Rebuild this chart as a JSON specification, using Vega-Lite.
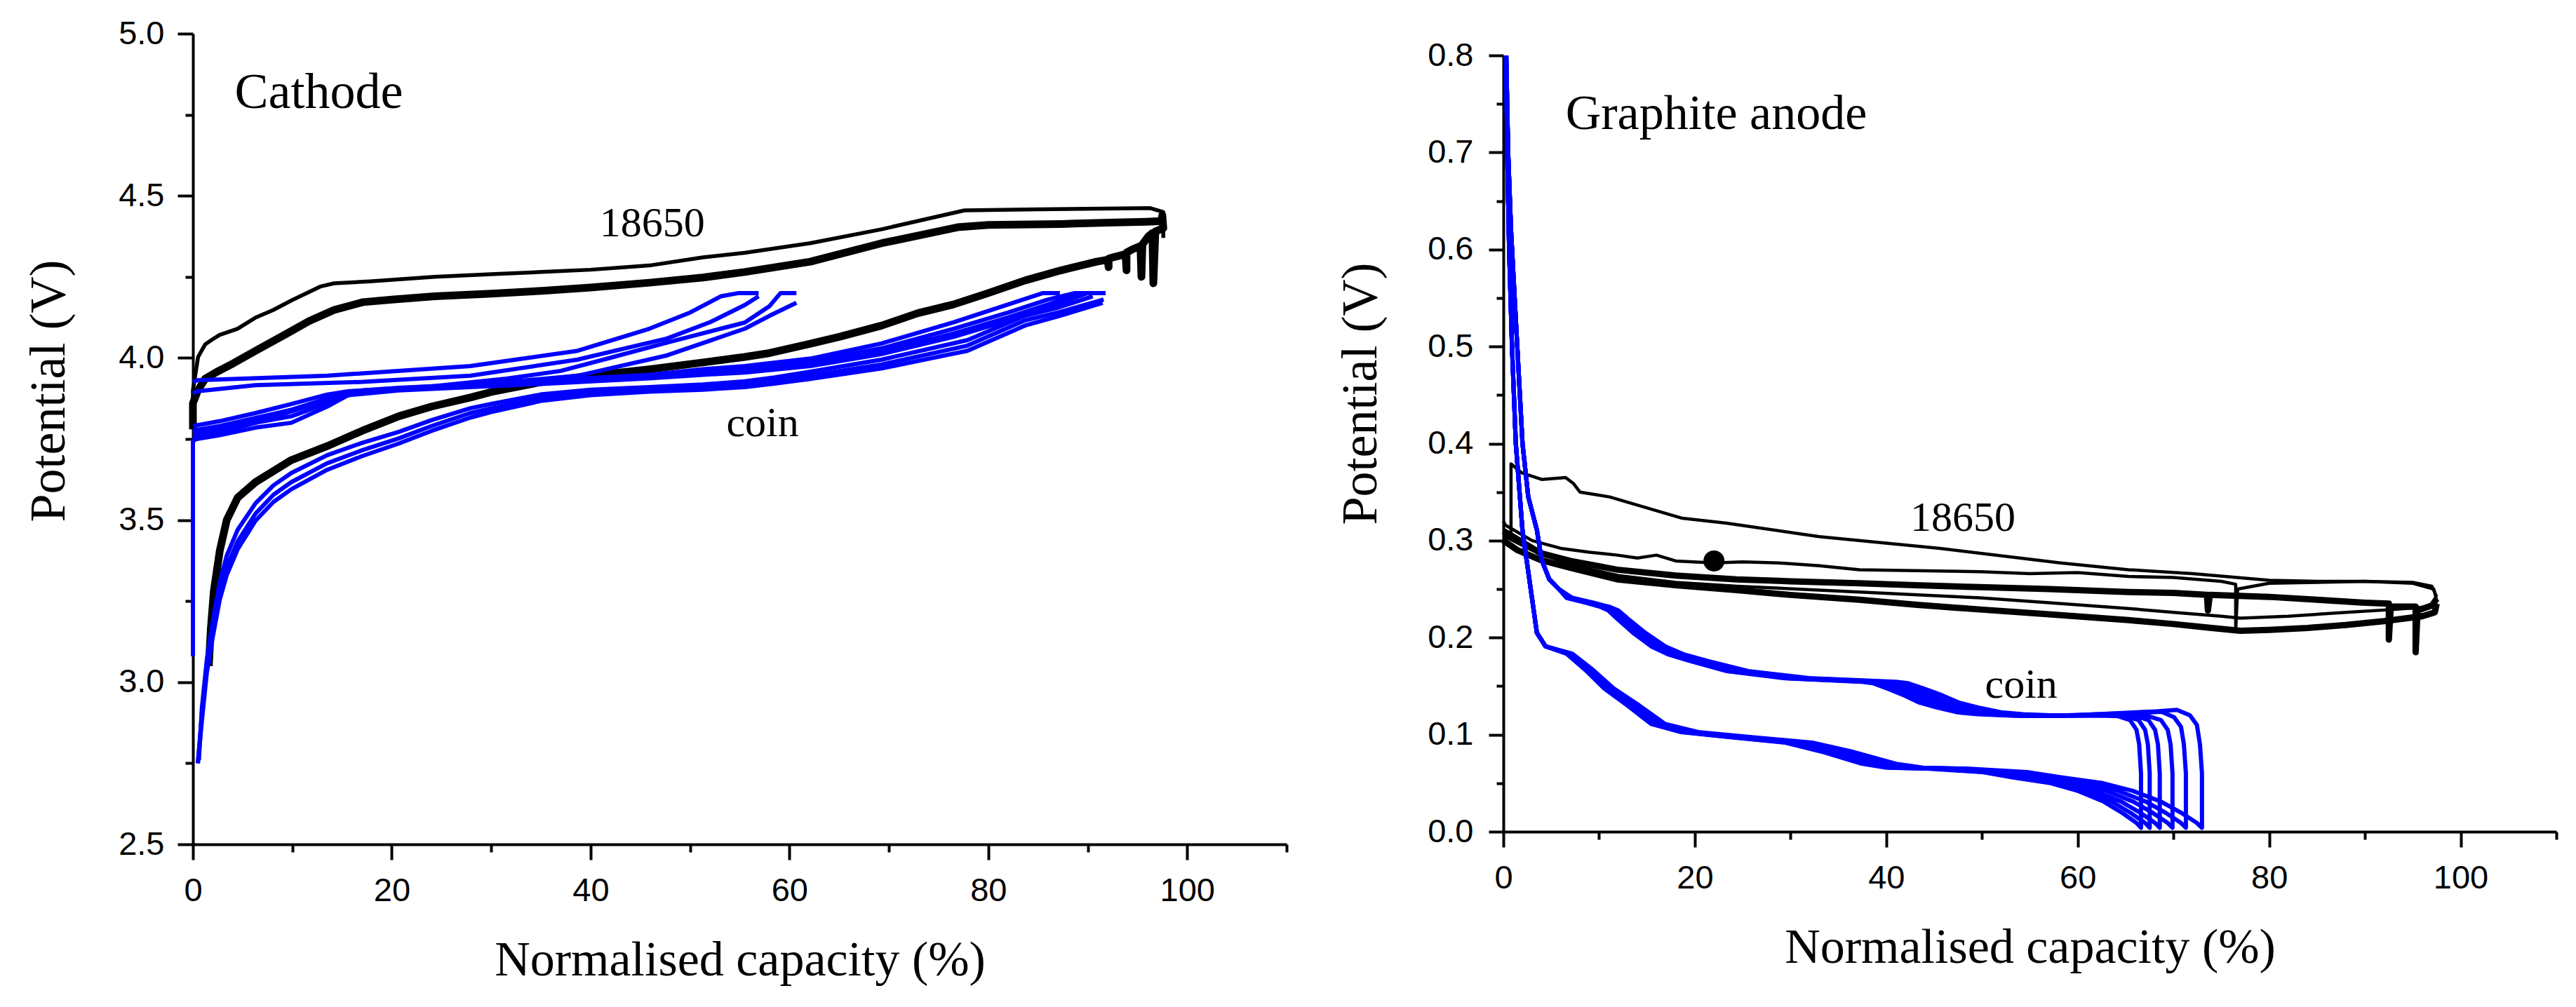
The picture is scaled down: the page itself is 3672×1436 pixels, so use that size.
{
  "$schema": "https://vega.github.io/schema/vega-lite/v6.json",
  "background": "white",
  "padding": {"left": 33, "top": 24, "right": 5, "bottom": 5},
  "spacing": 67,
  "config": {
    "view": {"stroke": null},
    "axis": {
      "grid": false,
      "domainColor": "black", "domainWidth": 4,
      "tickColor": "black", "tickWidth": 4,
      "labelColor": "black", "labelFont": "Liberation Sans",
      "labelFontSize": 47, "labelFlush": false, "labelOverlap": false,
      "titleColor": "black", "titleFont": "Liberation Serif", "titleFontSize": 70, "titleFontWeight": "normal"
    }
  },
  "datasets": {
    "cathode": [
      {"s":"18650-a","x":0,"y":3.78},{"s":"18650-a","x":0,"y":3.86},{"s":"18650-a","x":0.5,"y":3.9},{"s":"18650-a","x":1.24,"y":3.936},{"s":"18650-a","x":2.3,"y":3.955},{"s":"18650-a","x":4.1,"y":3.984},{"s":"18650-a","x":6.3,"y":4.022},{"s":"18650-a","x":9.2,"y":4.071},{"s":"18650-a","x":11.7,"y":4.114},{"s":"18650-a","x":14.2,"y":4.148},{"s":"18650-a","x":17.1,"y":4.172},{"s":"18650-a","x":20,"y":4.18},{"s":"18650-a","x":24.3,"y":4.19},{"s":"18650-a","x":30,"y":4.198},{"s":"18650-a","x":35.1,"y":4.207},{"s":"18650-a","x":40,"y":4.217},{"s":"18650-a","x":45.9,"y":4.232},{"s":"18650-a","x":51.3,"y":4.248},{"s":"18650-a","x":55.5,"y":4.265},{"s":"18650-a","x":62.1,"y":4.297},{"s":"18650-a","x":69.3,"y":4.354},{"s":"18650-a","x":76.9,"y":4.403},{"s":"18650-a","x":80,"y":4.41},{"s":"18650-a","x":87.3,"y":4.413},{"s":"18650-a","x":92,"y":4.417},{"s":"18650-a","x":95.9,"y":4.42},{"s":"18650-a","x":97.4,"y":4.422},{"s":"18650-a","x":97.5,"y":4.44},{"s":"18650-a","x":97.6,"y":4.4},
      {"s":"18650-a","x":96.8,"y":4.39},{"s":"18650-a","x":96.6,"y":4.23},{"s":"18650-a","x":96.5,"y":4.385},{"s":"18650-a","x":96.1,"y":4.375},{"s":"18650-a","x":95.5,"y":4.35},{"s":"18650-a","x":95.4,"y":4.25},{"s":"18650-a","x":95.3,"y":4.345},{"s":"18650-a","x":94.5,"y":4.335},{"s":"18650-a","x":93.9,"y":4.325},{"s":"18650-a","x":93.9,"y":4.27},{"s":"18650-a","x":93.8,"y":4.32},{"s":"18650-a","x":92.5,"y":4.31},{"s":"18650-a","x":92.1,"y":4.306},{"s":"18650-a","x":92.1,"y":4.28},{"s":"18650-a","x":92,"y":4.303},{"s":"18650-a","x":90.9,"y":4.297},{"s":"18650-a","x":87.3,"y":4.27},{"s":"18650-a","x":83.7,"y":4.239},{"s":"18650-a","x":80,"y":4.2},{"s":"18650-a","x":76.5,"y":4.165},{"s":"18650-a","x":72.9,"y":4.138},{"s":"18650-a","x":69.3,"y":4.1},{"s":"18650-a","x":65,"y":4.065},{"s":"18650-a","x":62.1,"y":4.044},{"s":"18650-a","x":58,"y":4.015},{"s":"18650-a","x":55.5,"y":4.003},{"s":"18650-a","x":51.3,"y":3.986},{"s":"18650-a","x":45.9,"y":3.965},{"s":"18650-a","x":40,"y":3.945},{"s":"18650-a","x":35.1,"y":3.926},{"s":"18650-a","x":30,"y":3.895},{"s":"18650-a","x":27.9,"y":3.878},{"s":"18650-a","x":24,"y":3.85},{"s":"18650-a","x":20.7,"y":3.82},{"s":"18650-a","x":17,"y":3.775},{"s":"18650-a","x":13.5,"y":3.728},{"s":"18650-a","x":9.9,"y":3.685},{"s":"18650-a","x":6.3,"y":3.617},{"s":"18650-a","x":4.5,"y":3.569},{"s":"18650-a","x":3.4,"y":3.5},{"s":"18650-a","x":2.7,"y":3.405},{"s":"18650-a","x":2.1,"y":3.28},{"s":"18650-a","x":1.8,"y":3.164},{"s":"18650-a","x":1.6,"y":3.05},
      {"s":"18650-b","x":0,"y":3.78},{"s":"18650-b","x":0,"y":3.9},{"s":"18650-b","x":0.52,"y":4.003},{"s":"18650-b","x":1.24,"y":4.042},{"s":"18650-b","x":1.96,"y":4.057},{"s":"18650-b","x":2.68,"y":4.071},{"s":"18650-b","x":4.48,"y":4.09},{"s":"18650-b","x":6.28,"y":4.124},{"s":"18650-b","x":8.09,"y":4.148},{"s":"18650-b","x":9.9,"y":4.177},{"s":"18650-b","x":12.8,"y":4.22},{"s":"18650-b","x":14.2,"y":4.23},{"s":"18650-b","x":17.8,"y":4.236},{"s":"18650-b","x":24.3,"y":4.25},{"s":"18650-b","x":30,"y":4.258},{"s":"18650-b","x":35.1,"y":4.265},{"s":"18650-b","x":40,"y":4.272},{"s":"18650-b","x":45.9,"y":4.285},{"s":"18650-b","x":51.3,"y":4.31},{"s":"18650-b","x":55.5,"y":4.324},{"s":"18650-b","x":62.1,"y":4.354},{"s":"18650-b","x":69.3,"y":4.397},{"s":"18650-b","x":77.6,"y":4.455},{"s":"18650-b","x":85,"y":4.458},{"s":"18650-b","x":96.3,"y":4.462},{"s":"18650-b","x":97.6,"y":4.45},{"s":"18650-b","x":97.6,"y":4.37},
      {"s":"coin-1","x":0,"y":3.925},{"s":"coin-1","x":0.4,"y":3.931},{"s":"coin-1","x":13.5,"y":3.945},{"s":"coin-1","x":27.9,"y":3.975},{"s":"coin-1","x":38.7,"y":4.022},{"s":"coin-1","x":45.9,"y":4.09},{"s":"coin-1","x":50,"y":4.14},{"s":"coin-1","x":53.1,"y":4.19},{"s":"coin-1","x":54.9,"y":4.2},{"s":"coin-1","x":56.9,"y":4.2},
      {"s":"coin-2","x":56.9,"y":4.19},{"s":"coin-2","x":55.5,"y":4.163},{"s":"coin-2","x":52,"y":4.11},{"s":"coin-2","x":47.7,"y":4.06},{"s":"coin-2","x":38.7,"y":3.995},{"s":"coin-2","x":27.9,"y":3.945},{"s":"coin-2","x":17.1,"y":3.926},{"s":"coin-2","x":6.3,"y":3.916},{"s":"coin-2","x":0.4,"y":3.897},{"s":"coin-2","x":0,"y":3.89},
      {"s":"coin-3","x":0,"y":3.77},{"s":"coin-3","x":2.7,"y":3.785},{"s":"coin-3","x":6.3,"y":3.81},{"s":"coin-3","x":9.9,"y":3.84},{"s":"coin-3","x":13.5,"y":3.87},{"s":"coin-3","x":17.1,"y":3.9},{"s":"coin-3","x":24,"y":3.912},{"s":"coin-3","x":31.5,"y":3.936},{"s":"coin-3","x":37,"y":3.96},{"s":"coin-3","x":42.3,"y":4.003},{"s":"coin-3","x":48,"y":4.05},{"s":"coin-3","x":55.5,"y":4.109},{"s":"coin-3","x":58,"y":4.16},{"s":"coin-3","x":59.1,"y":4.2},{"s":"coin-3","x":60.7,"y":4.2},
      {"s":"coin-4","x":60.7,"y":4.17},{"s":"coin-4","x":58,"y":4.13},{"s":"coin-4","x":55.5,"y":4.09},{"s":"coin-4","x":47.7,"y":4.008},{"s":"coin-4","x":38.7,"y":3.945},{"s":"coin-4","x":27.9,"y":3.916},{"s":"coin-4","x":17.1,"y":3.895},{"s":"coin-4","x":13.5,"y":3.87},{"s":"coin-4","x":9.9,"y":3.835},{"s":"coin-4","x":6.3,"y":3.8},{"s":"coin-4","x":2.7,"y":3.77},{"s":"coin-4","x":0,"y":3.755},
      {"s":"coin-5","x":0,"y":3.79},{"s":"coin-5","x":0.4,"y":3.792},{"s":"coin-5","x":2.7,"y":3.805},{"s":"coin-5","x":6.3,"y":3.83},{"s":"coin-5","x":9.9,"y":3.858},{"s":"coin-5","x":13.5,"y":3.887},{"s":"coin-5","x":15.6,"y":3.897},{"s":"coin-5","x":20.7,"y":3.908},{"s":"coin-5","x":27.9,"y":3.918},{"s":"coin-5","x":35.1,"y":3.93},{"s":"coin-5","x":45.9,"y":3.948},{"s":"coin-5","x":51.3,"y":3.965},{"s":"coin-5","x":55.5,"y":3.975},{"s":"coin-5","x":62.1,"y":3.998},{"s":"coin-5","x":69.3,"y":4.045},{"s":"coin-5","x":76.5,"y":4.11},{"s":"coin-5","x":82,"y":4.165},{"s":"coin-5","x":85.5,"y":4.2},{"s":"coin-5","x":87.2,"y":4.2},
      {"s":"coin-6","x":0,"y":3.775},{"s":"coin-6","x":0.4,"y":3.778},{"s":"coin-6","x":2.7,"y":3.79},{"s":"coin-6","x":6.3,"y":3.815},{"s":"coin-6","x":9.9,"y":3.84},{"s":"coin-6","x":13.5,"y":3.875},{"s":"coin-6","x":15.6,"y":3.893},{"s":"coin-6","x":20.7,"y":3.905},{"s":"coin-6","x":27.9,"y":3.915},{"s":"coin-6","x":35.1,"y":3.926},{"s":"coin-6","x":45.9,"y":3.944},{"s":"coin-6","x":51.3,"y":3.958},{"s":"coin-6","x":55.5,"y":3.967},{"s":"coin-6","x":62.1,"y":3.99},{"s":"coin-6","x":69.3,"y":4.03},{"s":"coin-6","x":76.5,"y":4.09},{"s":"coin-6","x":82,"y":4.14},{"s":"coin-6","x":86,"y":4.18},{"s":"coin-6","x":88.7,"y":4.2},{"s":"coin-6","x":89.8,"y":4.2},
      {"s":"coin-7","x":0,"y":3.08},{"s":"coin-7","x":0,"y":3.74},{"s":"coin-7","x":0.3,"y":3.76},{"s":"coin-7","x":2.7,"y":3.775},{"s":"coin-7","x":6.3,"y":3.8},{"s":"coin-7","x":9.9,"y":3.82},{"s":"coin-7","x":13.5,"y":3.86},{"s":"coin-7","x":15.6,"y":3.888},{"s":"coin-7","x":20.7,"y":3.903},{"s":"coin-7","x":27.9,"y":3.913},{"s":"coin-7","x":35.1,"y":3.923},{"s":"coin-7","x":45.9,"y":3.94},{"s":"coin-7","x":51.3,"y":3.952},{"s":"coin-7","x":55.5,"y":3.96},{"s":"coin-7","x":62.1,"y":3.982},{"s":"coin-7","x":69.3,"y":4.02},{"s":"coin-7","x":76.5,"y":4.075},{"s":"coin-7","x":82,"y":4.125},{"s":"coin-7","x":86,"y":4.165},{"s":"coin-7","x":89.5,"y":4.2},{"s":"coin-7","x":91,"y":4.2},
      {"s":"coin-8","x":0,"y":3.745},{"s":"coin-8","x":0.4,"y":3.75},{"s":"coin-8","x":2.7,"y":3.762},{"s":"coin-8","x":6.3,"y":3.785},{"s":"coin-8","x":9.9,"y":3.8},{"s":"coin-8","x":13.5,"y":3.85},{"s":"coin-8","x":15.6,"y":3.885},{"s":"coin-8","x":20.7,"y":3.9},{"s":"coin-8","x":27.9,"y":3.91},{"s":"coin-8","x":35.1,"y":3.92},{"s":"coin-8","x":45.9,"y":3.937},{"s":"coin-8","x":51.3,"y":3.948},{"s":"coin-8","x":55.5,"y":3.955},{"s":"coin-8","x":62.1,"y":3.975},{"s":"coin-8","x":69.3,"y":4.012},{"s":"coin-8","x":76.5,"y":4.065},{"s":"coin-8","x":82,"y":4.115},{"s":"coin-8","x":86,"y":4.155},{"s":"coin-8","x":90,"y":4.2},{"s":"coin-8","x":91.8,"y":4.2},
      {"s":"coin-9","x":91.6,"y":4.18},{"s":"coin-9","x":87,"y":4.14},{"s":"coin-9","x":83.7,"y":4.116},{"s":"coin-9","x":77.9,"y":4.038},{"s":"coin-9","x":69.3,"y":3.98},{"s":"coin-9","x":62,"y":3.945},{"s":"coin-9","x":58.5,"y":3.93},{"s":"coin-9","x":55.5,"y":3.918},{"s":"coin-9","x":51.3,"y":3.91},{"s":"coin-9","x":45.9,"y":3.903},{"s":"coin-9","x":40,"y":3.893},{"s":"coin-9","x":35.1,"y":3.878},{"s":"coin-9","x":30,"y":3.845},{"s":"coin-9","x":27.9,"y":3.83},{"s":"coin-9","x":24,"y":3.79},{"s":"coin-9","x":20.7,"y":3.752},{"s":"coin-9","x":17,"y":3.715},{"s":"coin-9","x":13.5,"y":3.675},{"s":"coin-9","x":9.9,"y":3.617},{"s":"coin-9","x":8.1,"y":3.578},{"s":"coin-9","x":6.3,"y":3.52},{"s":"coin-9","x":4.5,"y":3.434},{"s":"coin-9","x":3.4,"y":3.356},{"s":"coin-9","x":2.7,"y":3.28},{"s":"coin-9","x":2,"y":3.164},{"s":"coin-9","x":1.4,"y":3.05},{"s":"coin-9","x":0.9,"y":2.9},{"s":"coin-9","x":0.5,"y":2.75},
      {"s":"coin-10","x":90.5,"y":4.19},{"s":"coin-10","x":87,"y":4.155},{"s":"coin-10","x":83.7,"y":4.13},{"s":"coin-10","x":77.9,"y":4.055},{"s":"coin-10","x":69.3,"y":3.995},{"s":"coin-10","x":62,"y":3.957},{"s":"coin-10","x":58.5,"y":3.94},{"s":"coin-10","x":55.5,"y":3.928},{"s":"coin-10","x":51.3,"y":3.918},{"s":"coin-10","x":45.9,"y":3.91},{"s":"coin-10","x":40,"y":3.902},{"s":"coin-10","x":35.1,"y":3.888},{"s":"coin-10","x":30,"y":3.858},{"s":"coin-10","x":27.9,"y":3.845},{"s":"coin-10","x":24,"y":3.808},{"s":"coin-10","x":20.7,"y":3.772},{"s":"coin-10","x":17,"y":3.738},{"s":"coin-10","x":13.5,"y":3.7},{"s":"coin-10","x":9.9,"y":3.645},{"s":"coin-10","x":8.1,"y":3.607},{"s":"coin-10","x":6.3,"y":3.552},{"s":"coin-10","x":4.5,"y":3.47},{"s":"coin-10","x":3.4,"y":3.39},{"s":"coin-10","x":2.7,"y":3.31},{"s":"coin-10","x":2,"y":3.19},{"s":"coin-10","x":1.4,"y":3.07},{"s":"coin-10","x":0.9,"y":2.92},{"s":"coin-10","x":0.6,"y":2.76},
      {"s":"coin-11","x":91.5,"y":4.17},{"s":"coin-11","x":87,"y":4.128},{"s":"coin-11","x":83.7,"y":4.1},{"s":"coin-11","x":77.9,"y":4.022},{"s":"coin-11","x":69.3,"y":3.968},{"s":"coin-11","x":62,"y":3.935},{"s":"coin-11","x":58.5,"y":3.921},{"s":"coin-11","x":55.5,"y":3.91},{"s":"coin-11","x":51.3,"y":3.902},{"s":"coin-11","x":45.9,"y":3.896},{"s":"coin-11","x":40,"y":3.885},{"s":"coin-11","x":35.1,"y":3.868},{"s":"coin-11","x":30,"y":3.833},{"s":"coin-11","x":27.9,"y":3.816},{"s":"coin-11","x":24,"y":3.775},{"s":"coin-11","x":20.7,"y":3.736},{"s":"coin-11","x":17,"y":3.697},{"s":"coin-11","x":13.5,"y":3.655},{"s":"coin-11","x":9.9,"y":3.595},{"s":"coin-11","x":8.1,"y":3.556},{"s":"coin-11","x":6.3,"y":3.498},{"s":"coin-11","x":4.5,"y":3.41},{"s":"coin-11","x":3.4,"y":3.33},{"s":"coin-11","x":2.7,"y":3.255},{"s":"coin-11","x":2,"y":3.14},{"s":"coin-11","x":1.4,"y":3.03},{"s":"coin-11","x":0.9,"y":2.88},{"s":"coin-11","x":0.5,"y":2.75}
    ],
    "anode": [
      {"s":"18650-1","x":0.8,"y":0.3},{"s":"18650-1","x":0.8,"y":0.379},{"s":"18650-1","x":1.9,"y":0.37},{"s":"18650-1","x":4,"y":0.363},{"s":"18650-1","x":6.5,"y":0.365},{"s":"18650-1","x":7.3,"y":0.359},{"s":"18650-1","x":8,"y":0.35},{"s":"18650-1","x":11.1,"y":0.345},{"s":"18650-1","x":14.9,"y":0.334},{"s":"18650-1","x":18.7,"y":0.323},{"s":"18650-1","x":23.3,"y":0.318},{"s":"18650-1","x":33,"y":0.304},{"s":"18650-1","x":45.6,"y":0.292},{"s":"18650-1","x":58.2,"y":0.277},{"s":"18650-1","x":65.3,"y":0.27},{"s":"18650-1","x":72,"y":0.266},{"s":"18650-1","x":80,"y":0.259},{"s":"18650-1","x":85,"y":0.258},{"s":"18650-1","x":90,"y":0.258},{"s":"18650-1","x":95,"y":0.257},{"s":"18650-1","x":97,"y":0.253},{"s":"18650-1","x":97.5,"y":0.242},
      {"s":"18650-2","x":0,"y":0.32},{"s":"18650-2","x":0.2,"y":0.316},{"s":"18650-2","x":3,"y":0.3},{"s":"18650-2","x":6,"y":0.292},{"s":"18650-2","x":9,"y":0.288},{"s":"18650-2","x":11.9,"y":0.285},{"s":"18650-2","x":14,"y":0.282},{"s":"18650-2","x":16,"y":0.285},{"s":"18650-2","x":18,"y":0.279},{"s":"18650-2","x":22,"y":0.277},{"s":"18650-2","x":25,"y":0.278},{"s":"18650-2","x":28.8,"y":0.277},{"s":"18650-2","x":33,"y":0.274},{"s":"18650-2","x":37.2,"y":0.27},{"s":"18650-2","x":43,"y":0.269},{"s":"18650-2","x":49.8,"y":0.268},{"s":"18650-2","x":55,"y":0.266},{"s":"18650-2","x":60,"y":0.267},{"s":"18650-2","x":65.3,"y":0.263},{"s":"18650-2","x":70,"y":0.262},{"s":"18650-2","x":75,"y":0.258},{"s":"18650-2","x":76.5,"y":0.255},{"s":"18650-2","x":76.5,"y":0.206},{"s":"18650-2","x":76.7,"y":0.25},{"s":"18650-2","x":80,"y":0.256},{"s":"18650-2","x":85,"y":0.257},{"s":"18650-2","x":90,"y":0.258},{"s":"18650-2","x":95,"y":0.256},{"s":"18650-2","x":97.2,"y":0.25},{"s":"18650-2","x":97.5,"y":0.238},
      {"s":"18650-3","x":0,"y":0.31},{"s":"18650-3","x":3.9,"y":0.287},{"s":"18650-3","x":7,"y":0.279},{"s":"18650-3","x":11.9,"y":0.27},{"s":"18650-3","x":18,"y":0.264},{"s":"18650-3","x":24.4,"y":0.26},{"s":"18650-3","x":30,"y":0.258},{"s":"18650-3","x":37.2,"y":0.256},{"s":"18650-3","x":43,"y":0.254},{"s":"18650-3","x":49.8,"y":0.252},{"s":"18650-3","x":57,"y":0.25},{"s":"18650-3","x":65.3,"y":0.247},{"s":"18650-3","x":70,"y":0.246},{"s":"18650-3","x":73.5,"y":0.244},{"s":"18650-3","x":73.6,"y":0.228},{"s":"18650-3","x":73.8,"y":0.244},{"s":"18650-3","x":80,"y":0.242},{"s":"18650-3","x":85,"y":0.239},{"s":"18650-3","x":90,"y":0.236},{"s":"18650-3","x":92.5,"y":0.235},{"s":"18650-3","x":92.5,"y":0.198},{"s":"18650-3","x":92.7,"y":0.232},{"s":"18650-3","x":95.3,"y":0.232},{"s":"18650-3","x":95.3,"y":0.185},{"s":"18650-3","x":95.5,"y":0.228},{"s":"18650-3","x":97,"y":0.233},{"s":"18650-3","x":97.5,"y":0.24},
      {"s":"18650-4","x":0,"y":0.305},{"s":"18650-4","x":3,"y":0.29},{"s":"18650-4","x":7,"y":0.275},{"s":"18650-4","x":12,"y":0.264},{"s":"18650-4","x":18,"y":0.257},{"s":"18650-4","x":24.4,"y":0.253},{"s":"18650-4","x":37.2,"y":0.247},{"s":"18650-4","x":49.8,"y":0.241},{"s":"18650-4","x":57,"y":0.236},{"s":"18650-4","x":65.3,"y":0.23},{"s":"18650-4","x":70,"y":0.226},{"s":"18650-4","x":75,"y":0.222},{"s":"18650-4","x":77,"y":0.22},{"s":"18650-4","x":82,"y":0.222},{"s":"18650-4","x":88,"y":0.226},{"s":"18650-4","x":93,"y":0.229},{"s":"18650-4","x":97,"y":0.232},
      {"s":"18650-5","x":0,"y":0.3},{"s":"18650-5","x":1.5,"y":0.29},{"s":"18650-5","x":3.9,"y":0.28},{"s":"18650-5","x":7,"y":0.272},{"s":"18650-5","x":11.9,"y":0.26},{"s":"18650-5","x":18,"y":0.254},{"s":"18650-5","x":24.4,"y":0.249},{"s":"18650-5","x":30,"y":0.244},{"s":"18650-5","x":37.2,"y":0.239},{"s":"18650-5","x":43,"y":0.234},{"s":"18650-5","x":49.8,"y":0.229},{"s":"18650-5","x":57,"y":0.224},{"s":"18650-5","x":65.3,"y":0.218},{"s":"18650-5","x":70,"y":0.214},{"s":"18650-5","x":74,"y":0.21},{"s":"18650-5","x":77,"y":0.207},{"s":"18650-5","x":80,"y":0.208},{"s":"18650-5","x":84,"y":0.21},{"s":"18650-5","x":88,"y":0.213},{"s":"18650-5","x":92,"y":0.217},{"s":"18650-5","x":96,"y":0.222},{"s":"18650-5","x":97.3,"y":0.226},{"s":"18650-5","x":97.5,"y":0.235},

      {"s":"coin-1","x":0.3,"y":0.8},{"s":"coin-1","x":0.4,"y":0.7},{"s":"coin-1","x":0.6,"y":0.6},{"s":"coin-1","x":0.9,"y":0.5},{"s":"coin-1","x":1.3,"y":0.4},{"s":"coin-1","x":2,"y":0.31},{"s":"coin-1","x":2.5,"y":0.275},{"s":"coin-1","x":3,"y":0.24},{"s":"coin-1","x":3.5,"y":0.205},{"s":"coin-1","x":4.4,"y":0.191},
      {"s":"coin-1","x":6.58,"y":0.1835},{"s":"coin-1","x":8.58,"y":0.1665},{"s":"coin-1","x":10.48,"y":0.148},{"s":"coin-1","x":12.96,"y":0.13},{"s":"coin-1","x":15.44,"y":0.111},{"s":"coin-1","x":18.58,"y":0.1026},{"s":"coin-1","x":23.35,"y":0.0978},{"s":"coin-1","x":29.45,"y":0.0918},{"s":"coin-1","x":33.45,"y":0.082},{"s":"coin-1","x":37.45,"y":0.07},{"s":"coin-1","x":40.03,"y":0.066},{"s":"coin-1","x":44.22,"y":0.065},{"s":"coin-1","x":49.94,"y":0.0615},{"s":"coin-1","x":53.18,"y":0.056},{"s":"coin-1","x":57.18,"y":0.05},{"s":"coin-1","x":60.04,"y":0.042},{"s":"coin-1","x":62.71,"y":0.031},{"s":"coin-1","x":64.71,"y":0.019},{"s":"coin-1","x":66.14,"y":0.009},{"s":"coin-1","x":66.61,"y":0.004},
      {"s":"coin-1","x":66.61,"y":0.06},{"s":"coin-1","x":66.42,"y":0.09},{"s":"coin-1","x":66.14,"y":0.105},{"s":"coin-1","x":65.47,"y":0.115},{"s":"coin-1","x":64.23,"y":0.119},{"s":"coin-1","x":62.23,"y":0.12},{"s":"coin-1","x":53.46,"y":0.1195},{"s":"coin-1","x":49.56,"y":0.121},{"s":"coin-1","x":47.46,"y":0.123},{"s":"coin-1","x":45.27,"y":0.128},{"s":"coin-1","x":43.46,"y":0.133},{"s":"coin-1","x":41.74,"y":0.141},{"s":"coin-1","x":40.22,"y":0.147},{"s":"coin-1","x":38.6,"y":0.153},{"s":"coin-1","x":37.45,"y":0.1545},{"s":"coin-1","x":29.45,"y":0.158},{"s":"coin-1","x":23.35,"y":0.1655},{"s":"coin-1","x":19.44,"y":0.176},{"s":"coin-1","x":17.15,"y":0.183},{"s":"coin-1","x":15.44,"y":0.191},{"s":"coin-1","x":13.53,"y":0.205},{"s":"coin-1","x":11.82,"y":0.22},{"s":"coin-1","x":10.96,"y":0.228},{"s":"coin-1","x":10.2,"y":0.2315},{"s":"coin-1","x":8.58,"y":0.236},{"s":"coin-1","x":6.58,"y":0.241},
      {"s":"coin-1","x":5.8,"y":0.25},{"s":"coin-1","x":4.8,"y":0.26},{"s":"coin-1","x":4,"y":0.28},{"s":"coin-1","x":3.5,"y":0.311},{"s":"coin-1","x":2.6,"y":0.345},{"s":"coin-1","x":2,"y":0.4},{"s":"coin-1","x":1.3,"y":0.528},{"s":"coin-1","x":0.8,"y":0.62},{"s":"coin-1","x":0.5,"y":0.7},{"s":"coin-1","x":0.3,"y":0.8},

      {"s":"coin-2","x":0.3,"y":0.8},{"s":"coin-2","x":0.4,"y":0.7},{"s":"coin-2","x":0.6,"y":0.6},{"s":"coin-2","x":0.9,"y":0.5},{"s":"coin-2","x":1.3,"y":0.4},{"s":"coin-2","x":2,"y":0.31},{"s":"coin-2","x":2.5,"y":0.275},{"s":"coin-2","x":3,"y":0.24},{"s":"coin-2","x":3.5,"y":0.205},{"s":"coin-2","x":4.4,"y":0.191},
      {"s":"coin-2","x":6.67,"y":0.1835},{"s":"coin-2","x":8.69,"y":0.1665},{"s":"coin-2","x":10.63,"y":0.148},{"s":"coin-2","x":13.14,"y":0.13},{"s":"coin-2","x":15.65,"y":0.111},{"s":"coin-2","x":18.84,"y":0.1026},{"s":"coin-2","x":23.67,"y":0.0978},{"s":"coin-2","x":29.85,"y":0.0918},{"s":"coin-2","x":33.91,"y":0.082},{"s":"coin-2","x":37.96,"y":0.07},{"s":"coin-2","x":40.57,"y":0.066},{"s":"coin-2","x":44.82,"y":0.065},{"s":"coin-2","x":50.62,"y":0.0615},{"s":"coin-2","x":53.9,"y":0.056},{"s":"coin-2","x":57.96,"y":0.05},{"s":"coin-2","x":60.86,"y":0.042},{"s":"coin-2","x":63.56,"y":0.031},{"s":"coin-2","x":65.59,"y":0.019},{"s":"coin-2","x":67.04,"y":0.009},{"s":"coin-2","x":67.52,"y":0.004},
      {"s":"coin-2","x":67.52,"y":0.06},{"s":"coin-2","x":67.33,"y":0.09},{"s":"coin-2","x":67.04,"y":0.105},{"s":"coin-2","x":66.36,"y":0.115},{"s":"coin-2","x":65.11,"y":0.119},{"s":"coin-2","x":63.08,"y":0.12},{"s":"coin-2","x":54.19,"y":0.1195},{"s":"coin-2","x":50.23,"y":0.121},{"s":"coin-2","x":48.11,"y":0.123},{"s":"coin-2","x":45.89,"y":0.128},{"s":"coin-2","x":44.05,"y":0.133},{"s":"coin-2","x":42.31,"y":0.141},{"s":"coin-2","x":40.77,"y":0.147},{"s":"coin-2","x":39.12,"y":0.153},{"s":"coin-2","x":37.96,"y":0.1545},{"s":"coin-2","x":29.85,"y":0.158},{"s":"coin-2","x":23.67,"y":0.1655},{"s":"coin-2","x":19.71,"y":0.176},{"s":"coin-2","x":17.39,"y":0.183},{"s":"coin-2","x":15.65,"y":0.191},{"s":"coin-2","x":13.72,"y":0.205},{"s":"coin-2","x":11.98,"y":0.22},{"s":"coin-2","x":11.11,"y":0.228},{"s":"coin-2","x":10.34,"y":0.2315},{"s":"coin-2","x":8.69,"y":0.236},{"s":"coin-2","x":6.67,"y":0.241},
      {"s":"coin-2","x":5.8,"y":0.25},{"s":"coin-2","x":4.8,"y":0.26},{"s":"coin-2","x":4,"y":0.28},{"s":"coin-2","x":3.5,"y":0.311},{"s":"coin-2","x":2.6,"y":0.345},{"s":"coin-2","x":2,"y":0.4},{"s":"coin-2","x":1.3,"y":0.528},{"s":"coin-2","x":0.8,"y":0.62},{"s":"coin-2","x":0.5,"y":0.7},{"s":"coin-2","x":0.3,"y":0.8},

      {"s":"coin-3","x":0.3,"y":0.8},{"s":"coin-3","x":0.4,"y":0.7},{"s":"coin-3","x":0.6,"y":0.6},{"s":"coin-3","x":0.9,"y":0.5},{"s":"coin-3","x":1.3,"y":0.4},{"s":"coin-3","x":2,"y":0.31},{"s":"coin-3","x":2.5,"y":0.275},{"s":"coin-3","x":3,"y":0.24},{"s":"coin-3","x":3.5,"y":0.205},{"s":"coin-3","x":4.4,"y":0.191},
      {"s":"coin-3","x":6.77,"y":0.1835},{"s":"coin-3","x":8.83,"y":0.1665},{"s":"coin-3","x":10.79,"y":0.148},{"s":"coin-3","x":13.34,"y":0.13},{"s":"coin-3","x":15.89,"y":0.111},{"s":"coin-3","x":19.13,"y":0.1026},{"s":"coin-3","x":24.03,"y":0.0978},{"s":"coin-3","x":30.31,"y":0.0918},{"s":"coin-3","x":34.43,"y":0.082},{"s":"coin-3","x":38.55,"y":0.07},{"s":"coin-3","x":41.2,"y":0.066},{"s":"coin-3","x":45.52,"y":0.065},{"s":"coin-3","x":51.4,"y":0.0615},{"s":"coin-3","x":54.74,"y":0.056},{"s":"coin-3","x":58.86,"y":0.05},{"s":"coin-3","x":61.8,"y":0.042},{"s":"coin-3","x":64.55,"y":0.031},{"s":"coin-3","x":66.61,"y":0.019},{"s":"coin-3","x":68.08,"y":0.009},{"s":"coin-3","x":68.57,"y":0.004},
      {"s":"coin-3","x":68.57,"y":0.06},{"s":"coin-3","x":68.38,"y":0.09},{"s":"coin-3","x":68.08,"y":0.105},{"s":"coin-3","x":67.39,"y":0.115},{"s":"coin-3","x":66.12,"y":0.119},{"s":"coin-3","x":64.06,"y":0.12},{"s":"coin-3","x":55.03,"y":0.1195},{"s":"coin-3","x":51.01,"y":0.121},{"s":"coin-3","x":48.85,"y":0.123},{"s":"coin-3","x":46.6,"y":0.128},{"s":"coin-3","x":44.73,"y":0.133},{"s":"coin-3","x":42.97,"y":0.141},{"s":"coin-3","x":41.4,"y":0.147},{"s":"coin-3","x":39.73,"y":0.153},{"s":"coin-3","x":38.55,"y":0.1545},{"s":"coin-3","x":30.31,"y":0.158},{"s":"coin-3","x":24.03,"y":0.1655},{"s":"coin-3","x":20.01,"y":0.176},{"s":"coin-3","x":17.66,"y":0.183},{"s":"coin-3","x":15.89,"y":0.191},{"s":"coin-3","x":13.93,"y":0.205},{"s":"coin-3","x":12.16,"y":0.22},{"s":"coin-3","x":11.28,"y":0.228},{"s":"coin-3","x":10.5,"y":0.2315},{"s":"coin-3","x":8.83,"y":0.236},{"s":"coin-3","x":6.77,"y":0.241},
      {"s":"coin-3","x":5.8,"y":0.25},{"s":"coin-3","x":4.8,"y":0.26},{"s":"coin-3","x":4,"y":0.28},{"s":"coin-3","x":3.5,"y":0.311},{"s":"coin-3","x":2.6,"y":0.345},{"s":"coin-3","x":2,"y":0.4},{"s":"coin-3","x":1.3,"y":0.528},{"s":"coin-3","x":0.8,"y":0.62},{"s":"coin-3","x":0.5,"y":0.7},{"s":"coin-3","x":0.3,"y":0.8},

      {"s":"coin-4","x":0.3,"y":0.8},{"s":"coin-4","x":0.4,"y":0.7},{"s":"coin-4","x":0.6,"y":0.6},{"s":"coin-4","x":0.9,"y":0.5},{"s":"coin-4","x":1.3,"y":0.4},{"s":"coin-4","x":2,"y":0.31},{"s":"coin-4","x":2.5,"y":0.275},{"s":"coin-4","x":3,"y":0.24},{"s":"coin-4","x":3.5,"y":0.205},{"s":"coin-4","x":4.4,"y":0.191},
      {"s":"coin-4","x":6.9,"y":0.1835},{"s":"coin-4","x":9,"y":0.1665},{"s":"coin-4","x":11,"y":0.148},{"s":"coin-4","x":13.6,"y":0.13},{"s":"coin-4","x":16.2,"y":0.111},{"s":"coin-4","x":19.5,"y":0.1026},{"s":"coin-4","x":24.5,"y":0.0978},{"s":"coin-4","x":30.9,"y":0.0918},{"s":"coin-4","x":35.1,"y":0.082},{"s":"coin-4","x":39.3,"y":0.07},{"s":"coin-4","x":42,"y":0.066},{"s":"coin-4","x":46.4,"y":0.065},{"s":"coin-4","x":52.4,"y":0.0615},{"s":"coin-4","x":55.8,"y":0.056},{"s":"coin-4","x":60,"y":0.05},{"s":"coin-4","x":63,"y":0.042},{"s":"coin-4","x":65.8,"y":0.031},{"s":"coin-4","x":67.9,"y":0.019},{"s":"coin-4","x":69.4,"y":0.009},{"s":"coin-4","x":69.9,"y":0.004},
      {"s":"coin-4","x":69.9,"y":0.06},{"s":"coin-4","x":69.7,"y":0.09},{"s":"coin-4","x":69.4,"y":0.105},{"s":"coin-4","x":68.7,"y":0.115},{"s":"coin-4","x":67.4,"y":0.119},{"s":"coin-4","x":65.3,"y":0.12},{"s":"coin-4","x":56.1,"y":0.1195},{"s":"coin-4","x":52,"y":0.121},{"s":"coin-4","x":49.8,"y":0.123},{"s":"coin-4","x":47.5,"y":0.128},{"s":"coin-4","x":45.6,"y":0.133},{"s":"coin-4","x":43.8,"y":0.141},{"s":"coin-4","x":42.2,"y":0.147},{"s":"coin-4","x":40.5,"y":0.153},{"s":"coin-4","x":39.3,"y":0.1545},{"s":"coin-4","x":30.9,"y":0.158},{"s":"coin-4","x":24.5,"y":0.1655},{"s":"coin-4","x":20.4,"y":0.176},{"s":"coin-4","x":18,"y":0.183},{"s":"coin-4","x":16.2,"y":0.191},{"s":"coin-4","x":14.2,"y":0.205},{"s":"coin-4","x":12.4,"y":0.22},{"s":"coin-4","x":11.5,"y":0.228},{"s":"coin-4","x":10.7,"y":0.2315},{"s":"coin-4","x":9,"y":0.236},{"s":"coin-4","x":6.9,"y":0.241},
      {"s":"coin-4","x":5.8,"y":0.25},{"s":"coin-4","x":4.8,"y":0.26},{"s":"coin-4","x":4,"y":0.28},{"s":"coin-4","x":3.5,"y":0.311},{"s":"coin-4","x":2.6,"y":0.345},{"s":"coin-4","x":2,"y":0.4},{"s":"coin-4","x":1.3,"y":0.528},{"s":"coin-4","x":0.8,"y":0.62},{"s":"coin-4","x":0.5,"y":0.7},{"s":"coin-4","x":0.3,"y":0.8},

      {"s":"coin-5","x":0.3,"y":0.8},{"s":"coin-5","x":0.4,"y":0.7},{"s":"coin-5","x":0.6,"y":0.6},{"s":"coin-5","x":0.9,"y":0.5},{"s":"coin-5","x":1.3,"y":0.4},{"s":"coin-5","x":2,"y":0.31},{"s":"coin-5","x":2.5,"y":0.275},{"s":"coin-5","x":3,"y":0.24},{"s":"coin-5","x":3.5,"y":0.205},{"s":"coin-5","x":4.4,"y":0.191},
      {"s":"coin-5","x":7.04,"y":0.1835},{"s":"coin-5","x":9.18,"y":0.1665},{"s":"coin-5","x":11.22,"y":0.148},{"s":"coin-5","x":13.87,"y":0.13},{"s":"coin-5","x":16.52,"y":0.111},{"s":"coin-5","x":19.89,"y":0.1026},{"s":"coin-5","x":24.99,"y":0.0978},{"s":"coin-5","x":31.52,"y":0.0918},{"s":"coin-5","x":35.8,"y":0.082},{"s":"coin-5","x":40.09,"y":0.07},{"s":"coin-5","x":42.84,"y":0.066},{"s":"coin-5","x":47.33,"y":0.065},{"s":"coin-5","x":53.45,"y":0.0615},{"s":"coin-5","x":56.92,"y":0.056},{"s":"coin-5","x":61.2,"y":0.05},{"s":"coin-5","x":64.26,"y":0.042},{"s":"coin-5","x":67.12,"y":0.031},{"s":"coin-5","x":69.26,"y":0.019},{"s":"coin-5","x":70.79,"y":0.009},{"s":"coin-5","x":71.3,"y":0.004},
      {"s":"coin-5","x":71.3,"y":0.06},{"s":"coin-5","x":71.09,"y":0.09},{"s":"coin-5","x":70.79,"y":0.108},{"s":"coin-5","x":70.07,"y":0.118},{"s":"coin-5","x":68.75,"y":0.1235},{"s":"coin-5","x":66.61,"y":0.1225},{"s":"coin-5","x":57.22,"y":0.1195},{"s":"coin-5","x":53.04,"y":0.121},{"s":"coin-5","x":50.8,"y":0.123},{"s":"coin-5","x":48.45,"y":0.128},{"s":"coin-5","x":46.51,"y":0.133},{"s":"coin-5","x":44.68,"y":0.141},{"s":"coin-5","x":43.04,"y":0.147},{"s":"coin-5","x":41.31,"y":0.153},{"s":"coin-5","x":40.09,"y":0.1545},{"s":"coin-5","x":31.52,"y":0.158},{"s":"coin-5","x":24.99,"y":0.1655},{"s":"coin-5","x":20.81,"y":0.176},{"s":"coin-5","x":18.36,"y":0.183},{"s":"coin-5","x":16.52,"y":0.191},{"s":"coin-5","x":14.48,"y":0.205},{"s":"coin-5","x":12.65,"y":0.22},{"s":"coin-5","x":11.73,"y":0.228},{"s":"coin-5","x":10.91,"y":0.2315},{"s":"coin-5","x":9.18,"y":0.236},{"s":"coin-5","x":7.04,"y":0.241},
      {"s":"coin-5","x":5.8,"y":0.25},{"s":"coin-5","x":4.8,"y":0.26},{"s":"coin-5","x":4,"y":0.28},{"s":"coin-5","x":3.5,"y":0.311},{"s":"coin-5","x":2.6,"y":0.345},{"s":"coin-5","x":2,"y":0.4},{"s":"coin-5","x":1.3,"y":0.528},{"s":"coin-5","x":0.8,"y":0.62},{"s":"coin-5","x":0.5,"y":0.7},{"s":"coin-5","x":0.3,"y":0.8},

      {"s":"coin-6","x":0.3,"y":0.8},{"s":"coin-6","x":0.4,"y":0.7},{"s":"coin-6","x":0.6,"y":0.6},{"s":"coin-6","x":0.9,"y":0.5},{"s":"coin-6","x":1.3,"y":0.4},{"s":"coin-6","x":2,"y":0.31},{"s":"coin-6","x":2.5,"y":0.275},{"s":"coin-6","x":3,"y":0.24},{"s":"coin-6","x":3.5,"y":0.205},{"s":"coin-6","x":4.4,"y":0.191},
      {"s":"coin-6","x":7.2,"y":0.1835},{"s":"coin-6","x":9.4,"y":0.1665},{"s":"coin-6","x":11.48,"y":0.148},{"s":"coin-6","x":14.2,"y":0.13},{"s":"coin-6","x":16.91,"y":0.111},{"s":"coin-6","x":20.36,"y":0.1026},{"s":"coin-6","x":25.58,"y":0.0978},{"s":"coin-6","x":32.26,"y":0.0918},{"s":"coin-6","x":36.64,"y":0.082},{"s":"coin-6","x":41.03,"y":0.07},{"s":"coin-6","x":43.85,"y":0.066},{"s":"coin-6","x":48.44,"y":0.065},{"s":"coin-6","x":54.71,"y":0.0615},{"s":"coin-6","x":58.26,"y":0.056},{"s":"coin-6","x":62.64,"y":0.05},{"s":"coin-6","x":65.77,"y":0.042},{"s":"coin-6","x":68.7,"y":0.031},{"s":"coin-6","x":70.89,"y":0.019},{"s":"coin-6","x":72.45,"y":0.009},{"s":"coin-6","x":72.98,"y":0.004},
      {"s":"coin-6","x":72.98,"y":0.06},{"s":"coin-6","x":72.77,"y":0.09},{"s":"coin-6","x":72.45,"y":0.11},{"s":"coin-6","x":71.72,"y":0.12},{"s":"coin-6","x":70.36,"y":0.1255},{"s":"coin-6","x":68.17,"y":0.124},{"s":"coin-6","x":58.57,"y":0.1195},{"s":"coin-6","x":54.29,"y":0.121},{"s":"coin-6","x":51.99,"y":0.123},{"s":"coin-6","x":49.59,"y":0.128},{"s":"coin-6","x":47.61,"y":0.133},{"s":"coin-6","x":45.73,"y":0.141},{"s":"coin-6","x":44.06,"y":0.147},{"s":"coin-6","x":42.28,"y":0.153},{"s":"coin-6","x":41.03,"y":0.1545},{"s":"coin-6","x":32.26,"y":0.158},{"s":"coin-6","x":25.58,"y":0.1655},{"s":"coin-6","x":21.3,"y":0.176},{"s":"coin-6","x":18.79,"y":0.183},{"s":"coin-6","x":16.91,"y":0.191},{"s":"coin-6","x":14.82,"y":0.205},{"s":"coin-6","x":12.95,"y":0.22},{"s":"coin-6","x":12.01,"y":0.228},{"s":"coin-6","x":11.17,"y":0.2315},{"s":"coin-6","x":9.4,"y":0.236},{"s":"coin-6","x":7.2,"y":0.241},
      {"s":"coin-6","x":5.8,"y":0.25},{"s":"coin-6","x":4.8,"y":0.26},{"s":"coin-6","x":4,"y":0.28},{"s":"coin-6","x":3.5,"y":0.311},{"s":"coin-6","x":2.6,"y":0.345},{"s":"coin-6","x":2,"y":0.4},{"s":"coin-6","x":1.3,"y":0.528},{"s":"coin-6","x":0.8,"y":0.62},{"s":"coin-6","x":0.5,"y":0.7},{"s":"coin-6","x":0.3,"y":0.8}
    ]
  },
  "hconcat": [
    {
      "width": 1559,
      "height": 1156,
      "layer": [
        {
          "data": {"name": "cathode"},
          "transform": [{"filter": {"field": "s", "equal": "18650-a"}}],
          "mark": {"type": "line", "color": "black", "strokeWidth": 11, "strokeJoin": "round"},
          "encoding": {
            "x": {"field": "x", "type": "quantitative", "scale": {"domain": [0, 110], "nice": false, "zero": false},
              "axis": {"orient": "bottom", "values": [0, 20, 40, 60, 80, 100], "tickSize": 22, "labelPadding": 21, "title": "Normalised capacity (%)", "titlePadding": 42}},
            "y": {"field": "y", "type": "quantitative", "scale": {"domain": [2.5, 5.0], "nice": false, "zero": false},
              "axis": {"orient": "left", "values": [2.5, 3, 3.5, 4, 4.5, 5], "format": ".1f", "tickSize": 22, "labelPadding": 19, "title": "Potential (V)", "titleFontSize": 72, "titlePadding": 62, "titleY": 509}},
            "detail": {"field": "s"},
            "order": {"value": null}
          }
        },
        {
          "data": {"name": "cathode"},
          "transform": [{"filter": {"field": "s", "equal": "18650-b"}}],
          "mark": {"type": "line", "color": "black", "strokeWidth": 5.5, "strokeJoin": "round"},
          "encoding": {
            "x": {"field": "x", "type": "quantitative",
              "axis": {"orient": "bottom", "values": [10, 30, 50, 70, 90, 110], "tickSize": 11, "labels": false, "domain": false, "title": null}},
            "y": {"field": "y", "type": "quantitative",
              "axis": {"orient": "left", "values": [2.75, 3.25, 3.75, 4.25, 4.75], "tickSize": 11, "labels": false, "domain": false, "title": null}},
            "detail": {"field": "s"},
            "order": {"value": null}
          }
        },
        {
          "data": {"name": "cathode"},
          "transform": [{"filter": "indexof(datum.s, 'coin') == 0"}],
          "mark": {"type": "line", "color": "#0000ff", "strokeWidth": 6, "strokeJoin": "round"},
          "encoding": {
            "x": {"field": "x", "type": "quantitative", "axis": null},
            "y": {"field": "y", "type": "quantitative", "axis": null},
            "detail": {"field": "s"},
            "order": {"value": null}
          }
        },
        {
          "data": {"values": [{"label": "Cathode", "x": 4.2, "y": 4.77}]},
          "mark": {"type": "text", "font": "Liberation Serif", "fontSize": 72, "align": "left", "baseline": "alphabetic", "color": "black"},
          "encoding": {
            "x": {"field": "x", "type": "quantitative", "axis": null},
            "y": {"field": "y", "type": "quantitative", "axis": null},
            "text": {"field": "label"}
          }
        },
        {
          "data": {"values": [{"label": "18650", "x": 46.2, "y": 4.375}, {"label": "coin", "x": 57.3, "y": 3.759}]},
          "mark": {"type": "text", "font": "Liberation Serif", "fontSize": 60, "align": "center", "baseline": "alphabetic", "color": "black"},
          "encoding": {
            "x": {"field": "x", "type": "quantitative", "axis": null},
            "y": {"field": "y", "type": "quantitative", "axis": null},
            "text": {"field": "label"}
          }
        }
      ],
      "resolve": {"axis": {"x": "independent", "y": "independent"}}
    },
    {
      "spacing": 6,
      "vconcat": [
        {
          "width": 1,
          "height": 1,
          "data": {"values": []},
          "mark": "point"
        },
        {
          "width": 1501,
          "height": 1107,
          "layer": [
            {
              "data": {"name": "anode"},
              "transform": [{"filter": {"field": "s", "oneOf": ["18650-3", "18650-5"]}}],
              "mark": {"type": "line", "color": "black", "strokeWidth": 9, "strokeJoin": "round"},
              "encoding": {
                "x": {"field": "x", "type": "quantitative", "scale": {"domain": [0, 110], "nice": false, "zero": false},
                  "axis": {"orient": "bottom", "values": [0, 20, 40, 60, 80, 100], "tickSize": 22, "labelPadding": 21, "title": "Normalised capacity (%)", "titlePadding": 42}},
                "y": {"field": "y", "type": "quantitative", "scale": {"domain": [0, 0.8], "nice": false, "zero": false},
                  "axis": {"orient": "left", "values": [0, 0.1, 0.2, 0.3, 0.4, 0.5, 0.6, 0.7, 0.8], "format": ".1f", "tickSize": 21, "labelPadding": 22, "title": "Potential (V)", "titleFontSize": 72, "titlePadding": 58, "titleY": 482}},
                "detail": {"field": "s"},
                "order": {"value": null}
              }
            },
            {
              "data": {"name": "anode"},
              "transform": [{"filter": {"field": "s", "oneOf": ["18650-1", "18650-2", "18650-4"]}}],
              "mark": {"type": "line", "color": "black", "strokeWidth": 4.5, "strokeJoin": "round"},
              "encoding": {
                "x": {"field": "x", "type": "quantitative",
                  "axis": {"orient": "bottom", "values": [10, 30, 50, 70, 90, 110], "tickSize": 11, "labels": false, "domain": false, "title": null}},
                "y": {"field": "y", "type": "quantitative",
                  "axis": {"orient": "left", "values": [0.05, 0.15, 0.25, 0.35, 0.45, 0.55, 0.65, 0.75], "tickSize": 10, "labels": false, "domain": false, "title": null}},
                "detail": {"field": "s"},
                "order": {"value": null}
              }
            },
            {
              "data": {"name": "anode"},
              "transform": [{"filter": "indexof(datum.s, 'coin') == 0"}],
              "mark": {"type": "line", "color": "#0000ff", "strokeWidth": 6, "strokeJoin": "round"},
              "encoding": {
                "x": {"field": "x", "type": "quantitative", "axis": null},
                "y": {"field": "y", "type": "quantitative", "axis": null},
                "detail": {"field": "s"},
                "order": {"value": null}
              }
            },
            {
              "data": {"values": [{"x": 22, "y": 0.279}]},
              "mark": {"type": "point", "filled": true, "color": "black", "opacity": 1, "size": 900},
              "encoding": {
                "x": {"field": "x", "type": "quantitative", "axis": null},
                "y": {"field": "y", "type": "quantitative", "axis": null}
              }
            },
            {
              "data": {"values": [{"label": "Graphite anode", "x": 6.5, "y": 0.724}]},
              "mark": {"type": "text", "font": "Liberation Serif", "fontSize": 70, "align": "left", "baseline": "alphabetic", "color": "black"},
              "encoding": {
                "x": {"field": "x", "type": "quantitative", "axis": null},
                "y": {"field": "y", "type": "quantitative", "axis": null},
                "text": {"field": "label"}
              }
            },
            {
              "data": {"values": [{"label": "18650", "x": 48.0, "y": 0.31}, {"label": "coin", "x": 54.1, "y": 0.138}]},
              "mark": {"type": "text", "font": "Liberation Serif", "fontSize": 60, "align": "center", "baseline": "alphabetic", "color": "black"},
              "encoding": {
                "x": {"field": "x", "type": "quantitative", "axis": null},
                "y": {"field": "y", "type": "quantitative", "axis": null},
                "text": {"field": "label"}
              }
            }
          ],
          "resolve": {"axis": {"x": "independent", "y": "independent"}}
        }
      ]
    }
  ]
}
